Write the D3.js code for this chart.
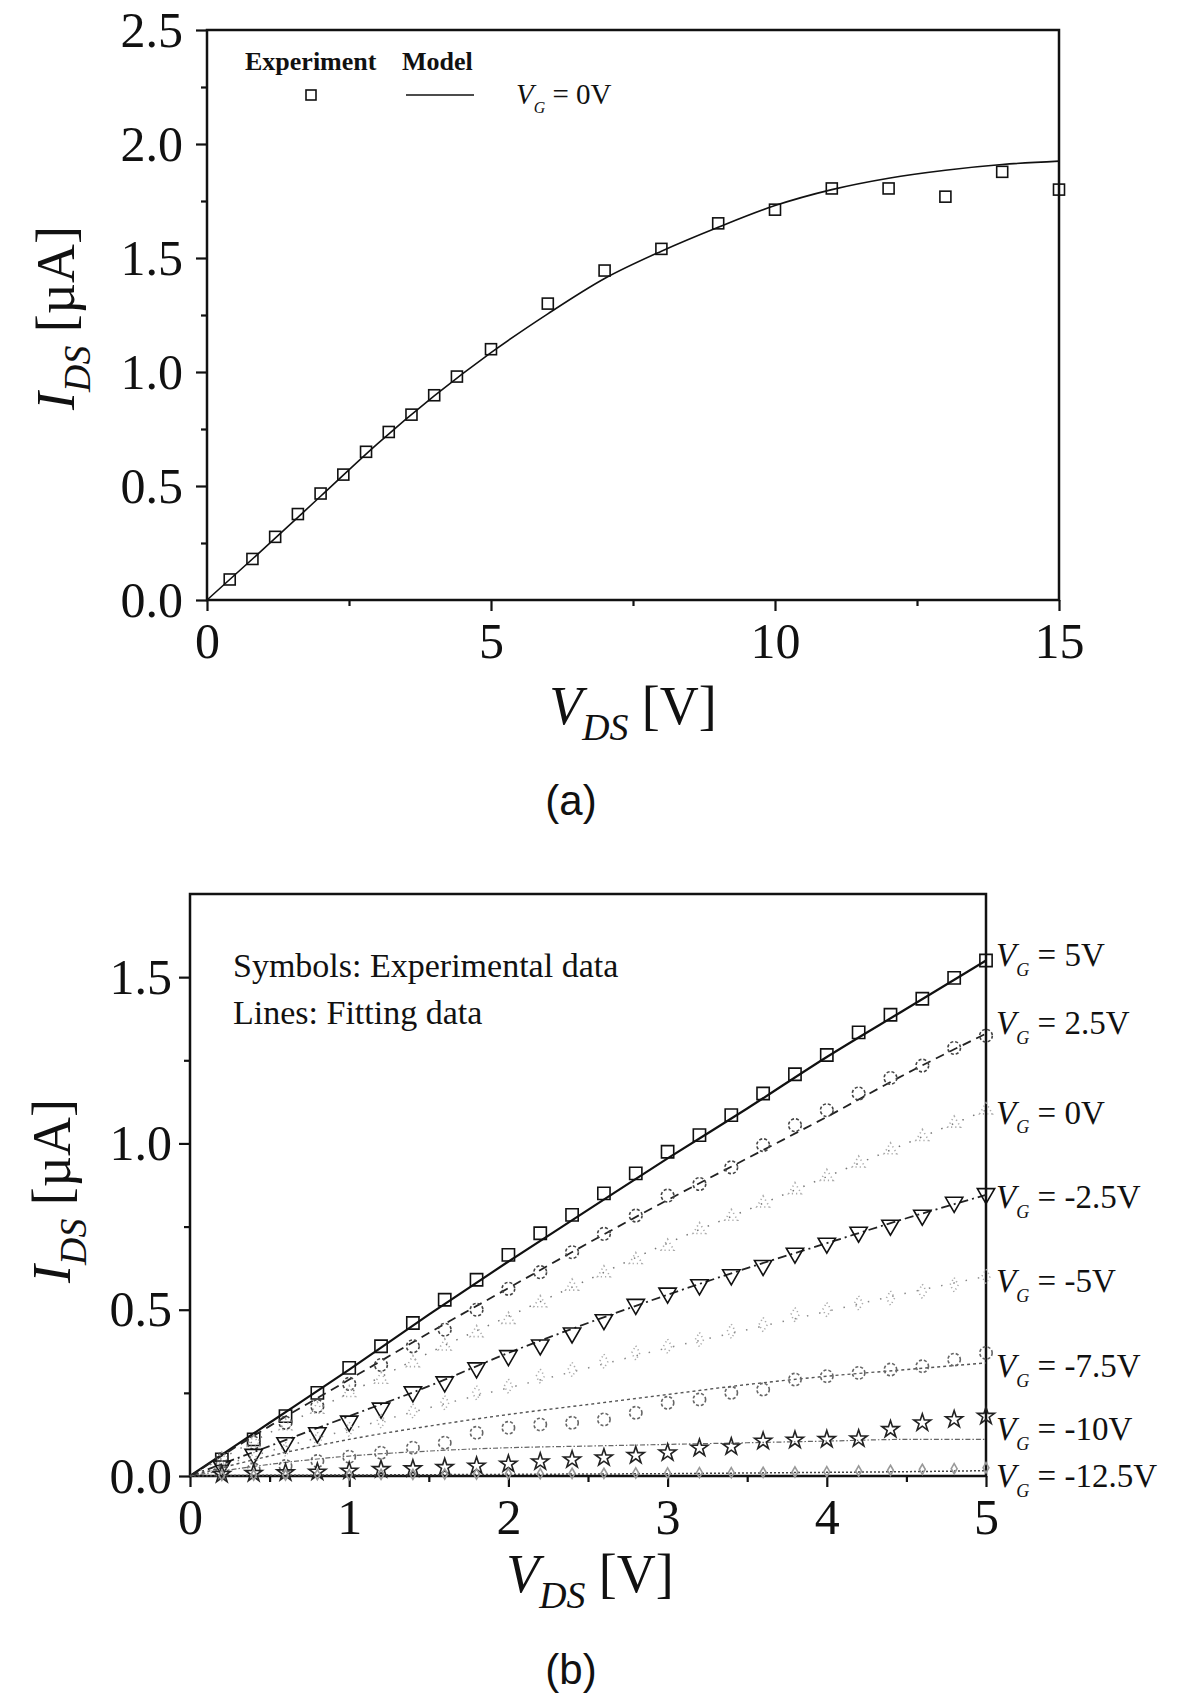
<!DOCTYPE html>
<html>
<head>
<meta charset="utf-8">
<script src="https://cdn.jsdelivr.net/npm/d3@7"></script>
<style>
  body { margin: 0; background: #fff; }
  svg text { font-family: "Liberation Serif", "Times New Roman", serif; fill: #111; }
  .sans { font-family: "Liberation Sans Narrow", "Liberation Sans", Arial, sans-serif !important; }
</style>
</head>
<body>
<svg id="fig" width="1199" height="1698"></svg>
<script>
// ---------- panel (a) data ----------
var vdsA = [0.4, 0.8, 1.2, 1.6, 2.0, 2.4, 2.8, 3.2, 3.6, 4.0, 4.4, 5, 6, 7, 8, 9, 10, 11, 12, 13, 14, 15]
var idsA = [0.09, 0.18, 0.277, 0.377, 0.467, 0.55, 0.65, 0.737, 0.813, 0.898, 0.98, 1.10, 1.30, 1.445, 1.54, 1.652, 1.712, 1.805, 1.805, 1.769, 1.878, 1.80]
var modelVdsA = [0, 1, 2, 3, 4, 5, 6, 7, 8, 9, 10, 11, 12, 13, 14, 15]
var modelIdsA = [0, 0.225, 0.455, 0.685, 0.895, 1.085, 1.255, 1.41, 1.53, 1.635, 1.73, 1.80, 1.85, 1.885, 1.91, 1.925]
var xTicksA = [0, 5, 10, 15]
var xMinorA = [2.5, 7.5, 12.5]
var yTicksA = [0, 0.5, 1.0, 1.5, 2.0, 2.5]
var yMinorA = [0.25, 0.75, 1.25, 1.75, 2.25]

// ---------- panel (b) data ----------
var gateLabels = ["5V", "2.5V", "0V", "-2.5V", "-5V", "-7.5V", "-10V", "-12.5V"]
var vdsB = [0.2, 0.4, 0.6, 0.8, 1.0, 1.2, 1.4, 1.6, 1.8, 2.0, 2.2, 2.4, 2.6, 2.8, 3.0, 3.2, 3.4, 3.6, 3.8, 4.0, 4.2, 4.4, 4.6, 4.8, 5.0]
var idsG5    = [0.05, 0.11, 0.18, 0.25, 0.325, 0.39, 0.46, 0.53, 0.59, 0.665, 0.73, 0.785, 0.85, 0.91, 0.975, 1.025, 1.085, 1.15, 1.208, 1.266, 1.334, 1.387, 1.435, 1.498, 1.55]
var idsG2p5  = [0.05, 0.10, 0.16, 0.21, 0.277, 0.334, 0.39, 0.44, 0.50, 0.563, 0.613, 0.673, 0.728, 0.783, 0.843, 0.878, 0.928, 0.995, 1.055, 1.10, 1.15, 1.197, 1.234, 1.287, 1.324]
var idsG0    = [0.05, 0.10, 0.15, 0.20, 0.25, 0.29, 0.34, 0.39, 0.43, 0.47, 0.52, 0.57, 0.61, 0.65, 0.69, 0.74, 0.78, 0.82, 0.86, 0.90, 0.94, 0.98, 1.02, 1.06, 1.10]
var idsGm2p5 = [0.03, 0.065, 0.10, 0.13, 0.165, 0.204, 0.253, 0.283, 0.325, 0.362, 0.394, 0.43, 0.47, 0.516, 0.55, 0.575, 0.605, 0.633, 0.67, 0.70, 0.733, 0.754, 0.784, 0.823, 0.849]
var idsGm5   = [0.025, 0.05, 0.08, 0.11, 0.14, 0.165, 0.195, 0.22, 0.25, 0.27, 0.30, 0.32, 0.345, 0.37, 0.39, 0.41, 0.435, 0.455, 0.485, 0.50, 0.52, 0.535, 0.555, 0.575, 0.60]
var idsGm7p5 = [0.01, 0.02, 0.03, 0.045, 0.058, 0.07, 0.085, 0.10, 0.13, 0.145, 0.155, 0.16, 0.17, 0.19, 0.22, 0.23, 0.25, 0.26, 0.29, 0.30, 0.31, 0.32, 0.33, 0.35, 0.37]
var idsGm10  = [0.005, 0.008, 0.01, 0.012, 0.015, 0.02, 0.022, 0.026, 0.03, 0.036, 0.043, 0.049, 0.055, 0.062, 0.07, 0.084, 0.088, 0.105, 0.108, 0.11, 0.112, 0.14, 0.16, 0.17, 0.18]
var idsGm12p5 = [0.002, 0.003, 0.003, 0.004, 0.004, 0.005, 0.005, 0.006, 0.006, 0.007, 0.007, 0.008, 0.008, 0.009, 0.009, 0.010, 0.010, 0.011, 0.012, 0.013, 0.015, 0.017, 0.020, 0.022, 0.025]

var fitVdsB = [0, 0.5, 1.0, 1.5, 2.0, 2.5, 3.0, 3.5, 4.0, 4.5, 5.0]
var fitG5     = [0, 0.16, 0.32, 0.485, 0.645, 0.80, 0.955, 1.105, 1.26, 1.405, 1.55]
var fitG2p5   = [0, 0.15, 0.29, 0.43, 0.565, 0.70, 0.83, 0.955, 1.08, 1.21, 1.33]
var fitG0     = [0, 0.13, 0.25, 0.37, 0.48, 0.59, 0.70, 0.80, 0.90, 1.00, 1.10]
var fitGm2p5  = [0, 0.09, 0.18, 0.27, 0.37, 0.46, 0.545, 0.625, 0.70, 0.775, 0.845]
var fitGm5    = [0, 0.075, 0.14, 0.205, 0.265, 0.325, 0.385, 0.44, 0.495, 0.55, 0.60]
var fitGm7p5  = [0, 0.06, 0.11, 0.15, 0.185, 0.215, 0.245, 0.275, 0.30, 0.32, 0.34]
var fitGm10   = [0, 0.035, 0.06, 0.075, 0.085, 0.09, 0.095, 0.10, 0.105, 0.11, 0.11]
var fitGm12p5 = [0, 0.002, 0.003, 0.004, 0.005, 0.006, 0.007, 0.009, 0.011, 0.013, 0.016]
var labelIdsB = [1.57, 1.366, 1.096, 0.843, 0.588, 0.333, 0.144, 0.003]

var xTicksB = [0, 1, 2, 3, 4, 5]
var xMinorB = [0.5, 1.5, 2.5, 3.5, 4.5]
var yTicksB = [0, 0.5, 1.0, 1.5]
var yMinorB = [0.25, 0.75, 1.25]

var svg = d3.select("#fig")

// text with italic / subscript parts
function richText(sel, parts, size) {
	var t = sel.append("text").style("font-size", size + "px")
	var shift = 0
	parts.forEach(function(p){
		var sp = t.append("tspan").text(p.t)
		if (p.i) sp.style("font-style", "italic")
		var want = p.sub ? size * 0.3 : 0
		sp.attr("dy", want - shift)
		shift = want
		if (p.sub) sp.style("font-size", (size * (p.subScale || 0.7)) + "px")
	})
	return t
}

function makePanel(c) {
	var x = d3.scaleLinear().domain(c.xDomain).range([c.left, c.right])
	var y = d3.scaleLinear().domain(c.yDomain).range([c.bottom, c.top])
	var g = svg.append("g")

	// minor ticks
	g.append("g").attr("transform", "translate(0," + c.bottom + ")")
		.call(d3.axisBottom(x).tickValues(c.xMinor).tickSize(6).tickFormat(""))
		.call(function(a){ a.select(".domain").remove() })
	g.append("g").attr("transform", "translate(" + c.left + ",0)")
		.call(d3.axisLeft(y).tickValues(c.yMinor).tickSize(6).tickFormat(""))
		.call(function(a){ a.select(".domain").remove() })

	// major ticks + labels
	g.append("g").attr("class", "xaxis").attr("transform", "translate(0," + c.bottom + ")")
		.call(d3.axisBottom(x).tickValues(c.xTicks).tickSize(11).tickPadding(c.xPad).tickFormat(d3.format("d")))
		.call(function(a){ a.select(".domain").remove() })
	g.append("g").attr("class", "yaxis").attr("transform", "translate(" + c.left + ",0)")
		.call(d3.axisLeft(y).tickValues(c.yTicks).tickSize(11).tickPadding(c.yPad).tickFormat(d3.format(".1f")))
		.call(function(a){ a.select(".domain").remove() })

	g.selectAll(".tick line").attr("stroke", "#111").attr("stroke-width", 2.2)
	g.selectAll(".tick text").style("font-size", "50px").attr("fill", "#111")
		.style("font-family", "'Liberation Serif', serif")

	// frame
	g.append("rect").attr("x", c.left).attr("y", c.top)
		.attr("width", c.right - c.left).attr("height", c.bottom - c.top)
		.attr("fill", "none").attr("stroke", "#111").attr("stroke-width", 2.5)

	return {x: x, y: y, g: g}
}

// ================= panel (a) =================
var pa = makePanel({xDomain: [0, 15], yDomain: [0, 2.5], left: 207, right: 1059, top: 30, bottom: 600,
	xTicks: xTicksA, xMinor: xMinorA, yTicks: yTicksA, yMinor: yMinorA, xPad: 11, yPad: 13})

pa.g.append("path").datum(modelVdsA.map(function(d, i){ return [d, modelIdsA[i]] }))
	.attr("d", d3.line().x(function(d){ return pa.x(d[0]) }).y(function(d){ return pa.y(d[1]) }).curve(d3.curveMonotoneX))
	.attr("fill", "none").attr("stroke", "#111").attr("stroke-width", 1.6)

pa.g.selectAll(".sqA").data(vdsA).enter().append("rect").attr("class", "sqA")
	.attr("x", function(d){ return pa.x(d) - 5.5 })
	.attr("y", function(d, i){ return pa.y(idsA[i]) - 5.5 })
	.attr("width", 11).attr("height", 11)
	.attr("fill", "none").attr("stroke", "#111").attr("stroke-width", 1.6)

// legend (a)
pa.g.append("text").attr("x", 245).attr("y", 70).style("font-size", "26px").style("font-weight", "bold").text("Experiment")
pa.g.append("text").attr("x", 402).attr("y", 70).style("font-size", "26px").style("font-weight", "bold").text("Model")
pa.g.append("rect").attr("x", 306).attr("y", 90).attr("width", 10).attr("height", 10)
	.attr("fill", "none").attr("stroke", "#111").attr("stroke-width", 1.6)
pa.g.append("line").attr("x1", 406).attr("x2", 474).attr("y1", 95).attr("y2", 95)
	.attr("stroke", "#111").attr("stroke-width", 1.5)
richText(pa.g, [{t: "V", i: true}, {t: "G", i: true, sub: true, subScale: 0.55}, {t: " = 0V"}], 29)
	.attr("x", 516).attr("y", 104)

// axis titles (a)
richText(pa.g, [{t: "I", i: true}, {t: "DS", i: true, sub: true}, {t: " [\u00b5A]"}], 54)
	.attr("text-anchor", "middle").attr("transform", "translate(74,318) rotate(-90)")
richText(pa.g, [{t: "V", i: true}, {t: "DS", i: true, sub: true}, {t: " [V]"}], 54)
	.attr("text-anchor", "middle").attr("x", 633).attr("y", 724)
svg.append("text").attr("class", "sans").attr("x", 571).attr("y", 815)
	.attr("text-anchor", "middle").style("font-size", "42px").text("(a)")

// ================= panel (b) =================
var pb = makePanel({xDomain: [0, 5], yDomain: [0, 1.75], left: 190, right: 986, top: 894, bottom: 1476,
	xTicks: xTicksB, xMinor: xMinorB, yTicks: yTicksB, yMinor: yMinorB, xPad: 11, yPad: 7})

var seriesB = [
	{pts: idsG5,     fit: fitG5,     sym: d3.symbolSquare,   size: 150, rot: 0,   sym_stroke: "#111", sym_dash: null,      line_stroke: "#111", line_w: 2.2, line_dash: null},
	{pts: idsG2p5,   fit: fitG2p5,   sym: d3.symbolCircle,   size: 125, rot: 0,   sym_stroke: "#444", sym_dash: "3,2",     line_stroke: "#222", line_w: 1.8, line_dash: "9,6"},
	{pts: idsG0,     fit: fitG0,     sym: d3.symbolTriangle, size: 70,  rot: 0,   sym_stroke: "#aaa", sym_dash: "1.2,3",   line_stroke: "#777", line_w: 1.5, line_dash: "1.5,10"},
	{pts: idsGm2p5,  fit: fitGm2p5,  sym: d3.symbolTriangle, size: 130, rot: 180, sym_stroke: "#111", sym_dash: null,      line_stroke: "#222", line_w: 1.8, line_dash: "9,4,2,4"},
	{pts: idsGm5,    fit: fitGm5,    sym: d3.symbolDiamond,  size: 60,  rot: 0,   sym_stroke: "#aaa", sym_dash: "1.2,3",   line_stroke: "#888", line_w: 1.5, line_dash: "1.5,11"},
	{pts: idsGm7p5,  fit: fitGm7p5,  sym: d3.symbolCircle,   size: 120, rot: 0,   sym_stroke: "#666", sym_dash: "3,2",     line_stroke: "#555", line_w: 1.4, line_dash: "3,3"},
	{pts: idsGm10,   fit: fitGm10,   sym: d3.symbolStar,     size: 90,  rot: 0,   sym_stroke: "#222", sym_dash: null,      line_stroke: "#666", line_w: 1.2, line_dash: "5,2,1.5,2"},
	{pts: idsGm12p5, fit: fitGm12p5, sym: d3.symbolDiamond,  size: 30,  rot: 0,   sym_stroke: "#999", sym_dash: null,      line_stroke: "#444", line_w: 1.5, line_dash: "2,2"}
]

var lineB = d3.line().x(function(d){ return pb.x(d[0]) }).y(function(d){ return pb.y(d[1]) }).curve(d3.curveMonotoneX)

seriesB.forEach(function(s, k){
	var sg = pb.g.append("g").attr("class", "series" + k)
	sg.append("path").datum(fitVdsB.map(function(d, i){ return [d, s.fit[i]] }))
		.attr("d", lineB).attr("fill", "none")
		.attr("stroke", s.line_stroke).attr("stroke-width", s.line_w)
		.attr("stroke-dasharray", s.line_dash)
	sg.selectAll("path.sym").data(vdsB).enter().append("path").attr("class", "sym")
		.attr("d", d3.symbol().type(s.sym).size(s.size))
		.attr("transform", function(d, i){
			return "translate(" + pb.x(d) + "," + pb.y(s.pts[i]) + ") rotate(" + s.rot + ")" })
		.attr("fill", "none").attr("stroke", s.sym_stroke).attr("stroke-width", 1.6)
		.attr("stroke-dasharray", s.sym_dash)
})

// right-hand gate labels
gateLabels.forEach(function(lab, k){
	richText(pb.g, [{t: "V", i: true}, {t: "G", i: true, sub: true, subScale: 0.55}, {t: " = " + lab}], 33)
		.attr("x", 996).attr("y", pb.y(labelIdsB[k]) + 12)
})

// in-plot note
pb.g.append("text").attr("x", 233).attr("y", 977).style("font-size", "34px").text("Symbols: Experimental data")
pb.g.append("text").attr("x", 233).attr("y", 1024).style("font-size", "34px").text("Lines: Fitting data")

// axis titles (b)
richText(pb.g, [{t: "I", i: true}, {t: "DS", i: true, sub: true}, {t: " [\u00b5A]"}], 54)
	.attr("text-anchor", "middle").attr("transform", "translate(70,1191) rotate(-90)")
richText(pb.g, [{t: "V", i: true}, {t: "DS", i: true, sub: true}, {t: " [V]"}], 54)
	.attr("text-anchor", "middle").attr("x", 590).attr("y", 1592)
svg.append("text").attr("class", "sans").attr("x", 571).attr("y", 1684)
	.attr("text-anchor", "middle").style("font-size", "42px").text("(b)")
</script>
</body>
</html>
